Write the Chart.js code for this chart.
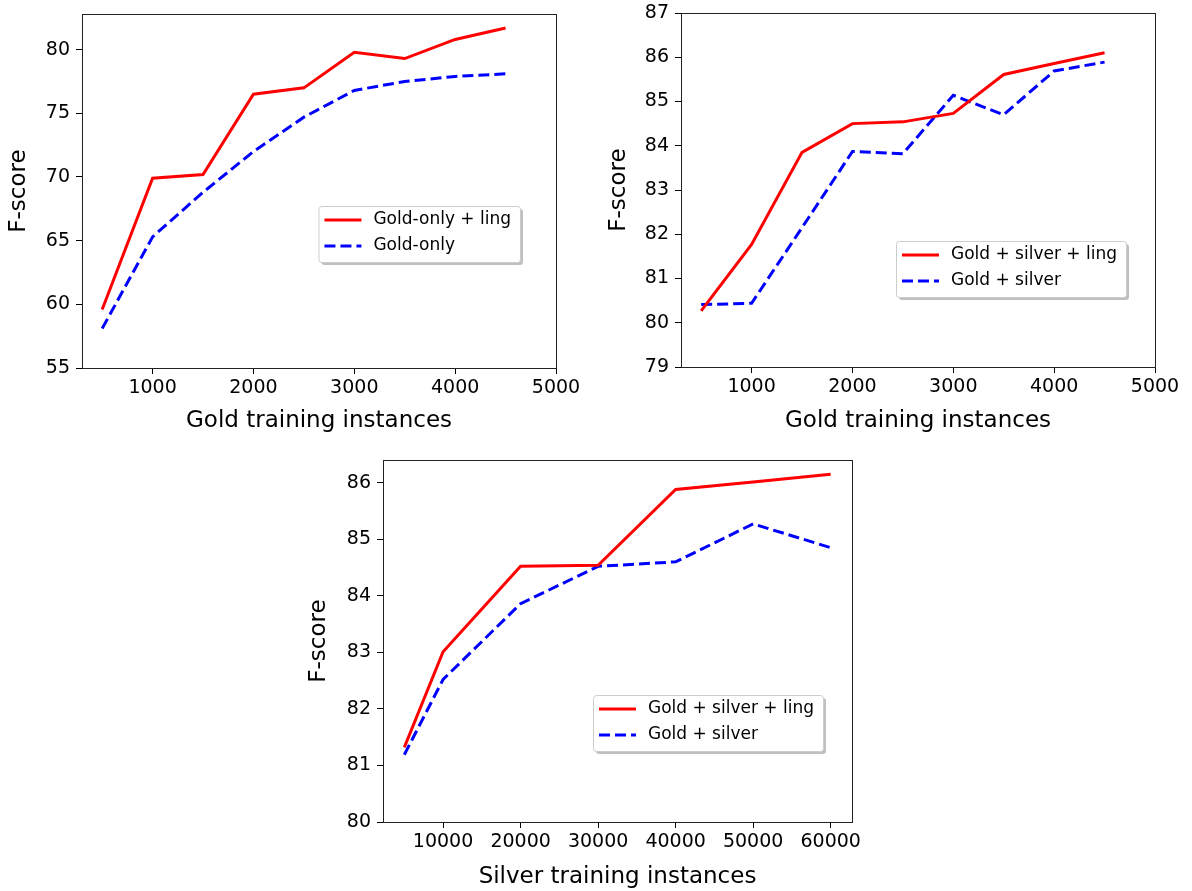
<!DOCTYPE html>
<html>
<head>
<meta charset="utf-8">
<script src="https://cdn.jsdelivr.net/npm/chart.js@4.4.1/dist/chart.umd.min.js"></script>
<style>
    html, body { margin: 0; padding: 0; background: #fff; }
    body { width: 1192px; height: 891px; position: relative; overflow: hidden; }
    canvas { position: absolute; }
</style>
</head>
<body>
<canvas id="gold" width="580" height="445" style="left:0;top:0"></canvas>
<canvas id="goldSilver" width="580" height="445" style="left:600px;top:0"></canvas>
<canvas id="silver" width="600" height="444" style="left:300px;top:447px"></canvas>
<script>
// values
const goldSizes = [500, 1000, 1500, 2000, 2500, 3000, 3500, 4000, 4500];
const goldOnlyLing = [59.6, 69.9, 70.2, 76.5, 77.0, 79.8, 79.3, 80.8, 81.7];
const goldOnly = [58.1, 65.3, 68.8, 72.0, 74.7, 76.8, 77.5, 77.9, 78.1];

const goldSilverLing = [80.27, 81.77, 83.85, 84.5, 84.54, 84.73, 85.61, 85.86, 86.1];
const goldSilver = [80.41, 80.44, 82.15, 83.87, 83.82, 85.14, 84.7, 85.69, 85.89];

const silverSizes = [5000, 10000, 20000, 30000, 40000, 50000, 60000];
const silverLing = [81.32, 83.01, 84.52, 84.54, 85.88, 86.01, 86.15];
const silverPlain = [81.19, 82.52, 83.86, 84.52, 84.6, 85.27, 84.85];

const goldTicks = [1000, 2000, 3000, 4000, 5000];
const silverTicks = [10000, 20000, 30000, 40000, 50000, 60000];
const yTicksGold = [55, 60, 65, 70, 75, 80];
const yTicksGoldSilver = [79, 80, 81, 82, 83, 84, 85, 86, 87];
const yTicksSilver = [80, 81, 82, 83, 84, 85, 86];

const FONT = "'DejaVu Sans', sans-serif";
Chart.defaults.color = "#000000";
Chart.defaults.font.family = FONT;

// black box round the plot area, like matplotlib spines
const frame = {
    id: "frame",
    afterDatasetsDraw(chart) {
        const { ctx, chartArea: a } = chart;
        ctx.save();
        ctx.strokeStyle = "#222";
        ctx.lineWidth = 1;
        ctx.strokeRect(a.left + 0.5, a.top + 0.5, a.right - a.left, a.bottom - a.top);
        ctx.restore();
    },
};

// legend drawn inside the plot with a drop shadow
const insetLegend = {
    id: "insetLegend",
    afterDraw(chart, args, opts) {
        const { ctx, chartArea: a } = chart;
        const items = chart.data.datasets;
        ctx.save();
        ctx.font = `17px ${FONT}`;
        const textW = Math.max(...items.map((d) => ctx.measureText(d.label).width));
        const w = 55 + textW + 9;
        const h = 56;
        const x = a.right - opts.right - w;
        const y = opts.top !== undefined ? a.top + opts.top : a.bottom - opts.bottom - h;

        ctx.fillStyle = "rgba(128,128,128,0.5)";
        ctx.beginPath();
        ctx.roundRect(x + 3, y + 3, w, h, 3);
        ctx.fill();
        ctx.fillStyle = "#fff";
        ctx.strokeStyle = "#cccccc";
        ctx.lineWidth = 1;
        ctx.beginPath();
        ctx.roundRect(x + 0.5, y + 0.5, w, h, 3);
        ctx.fill();
        ctx.stroke();

        items.forEach((d, i) => {
            const ly = y + 14 + i * 26;
            ctx.strokeStyle = d.borderColor;
            ctx.lineWidth = d.borderWidth;
            ctx.setLineDash(d.borderDash || []);
            ctx.beginPath();
            ctx.moveTo(x + 6, ly);
            ctx.lineTo(x + 43, ly);
            ctx.stroke();
            ctx.setLineDash([]);
            ctx.fillStyle = "#000";
            ctx.textBaseline = "middle";
            ctx.fillText(d.label, x + 55, ly);
        });
        ctx.restore();
    },
};

const points = (xs, ys) => xs.map((x, i) => ({ x: x, y: ys[i] }));

// no extra room for overhanging tick labels, the layout padding decides
const noLabelPadding = (scale) => {
    scale.paddingTop = 0;
    scale.paddingBottom = 0;
    scale.paddingLeft = 0;
    scale.paddingRight = 0;
};

const lineChart = (id, cfg) => {
    const tickFont = { size: 19, family: FONT };
    const titleFont = { size: 23, family: FONT, lineHeight: 1 };

    new Chart(document.getElementById(id), {
        type: "line",
        data: {
            datasets: [
                {
                    label: cfg.labels[0],
                    data: points(cfg.xs, cfg.ling),
                    borderColor: "#ff0000",
                    backgroundColor: "#ff0000",
                    borderWidth: 3,
                    pointRadius: 0,
                    fill: false,
                },
                {
                    label: cfg.labels[1],
                    data: points(cfg.xs, cfg.plain),
                    borderColor: "#0000ff",
                    backgroundColor: "#0000ff",
                    borderWidth: 3,
                    borderDash: [11, 5],
                    pointRadius: 0,
                    fill: false,
                },
            ],
        },
        options: {
            responsive: false,
            animation: false,
            layout: { padding: { top: cfg.top, right: cfg.right, left: 0, bottom: 0 } },
            plugins: {
                legend: { display: false },
                tooltip: { enabled: false },
                insetLegend: cfg.legend,
            },
            scales: {
                x: {
                    type: "linear",
                    min: cfg.xMin,
                    max: cfg.xMax,
                    afterBuildTicks: (axis) => {
                        axis.ticks = cfg.xTicks.map((v) => ({ value: v }));
                    },
                    afterFit: (scale) => {
                        scale.height = cfg.xHeight;
                        noLabelPadding(scale);
                    },
                    ticks: {
                        font: tickFont,
                        padding: 3,
                        autoSkip: false,
                        maxRotation: 0,
                        callback: (v) => String(v),
                    },
                    grid: {
                        drawOnChartArea: false,
                        drawTicks: true,
                        tickLength: 6,
                        tickColor: "#000",
                    },
                    border: { display: false },
                    title: {
                        display: true,
                        text: cfg.xTitle,
                        font: titleFont,
                        padding: { top: 0, bottom: cfg.xTitlePad },
                    },
                },
                y: {
                    min: cfg.yMin,
                    max: cfg.yMax,
                    afterBuildTicks: (axis) => {
                        axis.ticks = cfg.yTicks.map((v) => ({ value: v }));
                    },
                    afterFit: (scale) => {
                        scale.width = cfg.yWidth;
                        noLabelPadding(scale);
                    },
                    ticks: {
                        font: tickFont,
                        padding: 6,
                        callback: (v) => String(v),
                    },
                    grid: {
                        drawOnChartArea: false,
                        drawTicks: true,
                        tickLength: 6,
                        tickColor: "#000",
                    },
                    border: { display: false },
                    title: {
                        display: true,
                        text: "F-score",
                        font: titleFont,
                        padding: { top: 8, bottom: 0 },
                    },
                },
            },
        },
        plugins: [frame, insetLegend],
    });
};

lineChart("gold", {
    xs: goldSizes,
    ling: goldOnlyLing,
    plain: goldOnly,
    labels: ["Gold-only + ling", "Gold-only"],
    xMin: 300,
    xMax: 5000,
    xTicks: goldTicks,
    yMin: 55,
    yMax: 82.8,
    yTicks: yTicksGold,
    xTitle: "Gold training instances",
    xTitlePad: 12,
    top: 14,
    right: 24,
    yWidth: 82,
    xHeight: 77,
    legend: { right: 36, top: 192 },
});

lineChart("goldSilver", {
    xs: goldSizes,
    ling: goldSilverLing,
    plain: goldSilver,
    labels: ["Gold + silver + ling", "Gold + silver"],
    xMin: 300,
    xMax: 5000,
    xTicks: goldTicks,
    yMin: 79,
    yMax: 87,
    yTicks: yTicksGoldSilver,
    xTitle: "Gold training instances",
    xTitlePad: 12,
    top: 13,
    right: 25,
    yWidth: 81,
    xHeight: 78,
    legend: { right: 29, bottom: 70 },
});

lineChart("silver", {
    xs: silverSizes,
    ling: silverLing,
    plain: silverPlain,
    labels: ["Gold + silver + ling", "Gold + silver"],
    xMin: 2250,
    xMax: 62750,
    xTicks: silverTicks,
    yMin: 80,
    yMax: 86.4,
    yTicks: yTicksSilver,
    xTitle: "Silver training instances",
    xTitlePad: 2,
    top: 13,
    right: 48,
    yWidth: 83,
    xHeight: 69,
    legend: { right: 29, bottom: 71 },
});
</script>
</body>
</html>
